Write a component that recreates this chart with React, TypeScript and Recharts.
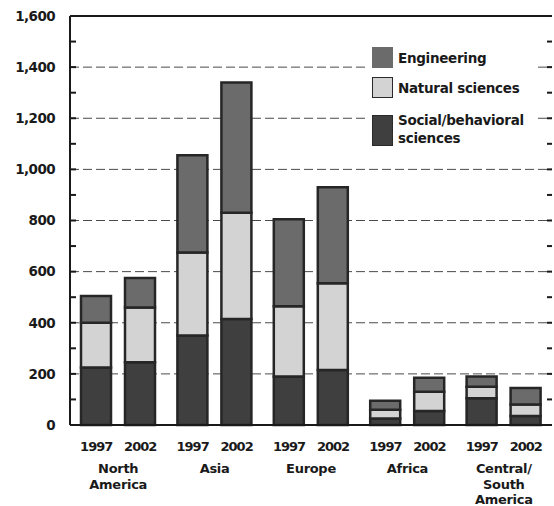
import {
  BarChart,
  Bar,
  XAxis,
  YAxis,
  CartesianGrid,
  Legend,
  ReferenceLine,
} from "recharts";

const regions = ["North America", "Asia", "Europe", "Africa", "Central/South America"];
const regionLines = [["North", "America"], ["Asia"], ["Europe"], ["Africa"], ["Central/", "South", "America"]];
const years = ["1997", "2002"];

const social1997 = [225, 350, 190, 25, 105];
const natural1997 = [175, 325, 275, 35, 45];
const engineering1997 = [105, 380, 340, 35, 40];
const social2002 = [245, 415, 215, 55, 35];
const natural2002 = [215, 415, 340, 75, 45];
const engineering2002 = [115, 510, 375, 55, 65];

// every 100 gets a tick mark, every 200 gets a label and a dashed line
const yTicks = [0, 100, 200, 300, 400, 500, 600, 700, 800, 900, 1000, 1100, 1200, 1300, 1400, 1500, 1600];
const gridValues = [200, 400, 600, 800, 1000, 1200, 1400];

const legendItems = [
  { label: ["Engineering"], color: "#6b6b6b" },
  { label: ["Natural sciences"], color: "#d3d3d3" },
  { label: ["Social/behavioral", "sciences"], color: "#3f3f3f" },
];

const COLORS = { eng: "#6b6b6b", nat: "#d3d3d3", soc: "#3f3f3f" };
const FONT = "'DejaVu Sans', 'Liberation Sans', Arial, sans-serif";
const INK = "#1a1a1a";
const PLOT_RIGHT = 552;

const data = regions.map((r, i) => ({
  region: r,
  soc97: social1997[i],
  nat97: natural1997[i],
  eng97: engineering1997[i],
  soc02: social2002[i],
  nat02: natural2002[i],
  eng02: engineering2002[i],
}));

const RegionTick = (props: any) => {
  const { x, y, index } = props;
  const lines = regionLines[index] || [];
  return (
    <g fontFamily={FONT} fontWeight={700} fill={INK}>
      <text x={x - 22} y={y + 18} textAnchor="middle" fontSize={13} letterSpacing={-1} fill={INK}>
        {years[0]}
      </text>
      <text x={x + 22} y={y + 18} textAnchor="middle" fontSize={13} letterSpacing={-1} fill={INK}>
        {years[1]}
      </text>
      {lines.map((l, i) => (
        <text key={l} x={x} y={y + 40 + i * 15.5} textAnchor="middle" fontSize={13} letterSpacing={-0.3} fill={INK}>
          {l}
        </text>
      ))}
    </g>
  );
};

const ValueTick = (props: any) => {
  const { x, y, payload } = props;
  const v = payload.value as number;
  const axisX = x + 15;
  const showLabel = v % 200 === 0;
  return (
    <g>
      {v > 0 && v < 1600 && (
        <>
          <line x1={axisX} x2={axisX + 6} y1={y} y2={y} stroke={INK} strokeWidth={2} />
          <line x1={PLOT_RIGHT - 5} x2={PLOT_RIGHT} y1={y} y2={y} stroke={INK} strokeWidth={2} />
        </>
      )}
      {showLabel && (
        <text x={x} y={y} dy="0.36em" textAnchor="end" fontSize={13.5} fontWeight={700} fontFamily={FONT} letterSpacing={-0.6} fill={INK}>
          {v.toLocaleString("en-US")}
        </text>
      )}
    </g>
  );
};

const LegendBox = () => (
  <div style={{ position: "relative", width: 170, height: 112, background: "#fff", fontFamily: FONT, fontWeight: 700, fontSize: 13.5, color: INK, letterSpacing: -0.3 }}>
    {legendItems.map((item, i) => {
      const top = [7, 37, 75][i];
      const h = i === 2 ? 31 : 21;
      return (
        <div key={item.label[0]} style={{ position: "absolute", left: 6, top }}>
          <div style={{ position: "absolute", left: 0, top: 0, width: 19, height: h - 2, background: item.color, border: `1.5px solid ${i === 0 ? item.color : "#2a2a2a"}` }} />
          <div style={{ position: "absolute", left: 26, top: i === 2 ? -4 : 2, whiteSpace: "nowrap", lineHeight: "18px" }}>
            {item.label.map((l) => (
              <div key={l}>{l}</div>
            ))}
          </div>
        </div>
      );
    })}
  </div>
);

export default function App() {
  const barStroke = { stroke: "#262626", strokeWidth: 2.5 };
  return (
    <div style={{ position: "absolute", left: 0, top: 0 }}>
      <BarChart
        width={554}
        height={506}
        data={data}
        margin={{ top: 16, right: 2, left: 0, bottom: 0 }}
        barSize={30}
        barGap={14}
      >
        <CartesianGrid vertical={false} horizontalValues={gridValues} stroke="#4a4a4a" strokeDasharray="9 4" />
        <XAxis
          dataKey="region"
          interval={0}
          height={81}
          tickLine={false}
          axisLine={{ stroke: INK, strokeWidth: 2 }}
          tick={<RegionTick />}
        />
        <YAxis
          type="number"
          domain={[0, 1600]}
          ticks={yTicks}
          interval={0}
          width={70}
          tickLine={false}
          tickSize={10}
          tickMargin={5}
          axisLine={{ stroke: INK, strokeWidth: 2 }}
          tick={<ValueTick />}
        />
        <ReferenceLine y={1600} stroke={INK} strokeWidth={2} />
        <Legend
          layout="horizontal"
          verticalAlign="middle"
          align="center"
          wrapperStyle={{ top: 40, left: 366, width: 170, height: 112 }}
          content={() => <LegendBox />}
        />
        <Bar dataKey="soc97" stackId="1997" fill={COLORS.soc} {...barStroke} isAnimationActive={false} />
        <Bar dataKey="nat97" stackId="1997" fill={COLORS.nat} {...barStroke} isAnimationActive={false} />
        <Bar dataKey="eng97" stackId="1997" fill={COLORS.eng} {...barStroke} isAnimationActive={false} />
        <Bar dataKey="soc02" stackId="2002" fill={COLORS.soc} {...barStroke} isAnimationActive={false} />
        <Bar dataKey="nat02" stackId="2002" fill={COLORS.nat} {...barStroke} isAnimationActive={false} />
        <Bar dataKey="eng02" stackId="2002" fill={COLORS.eng} {...barStroke} isAnimationActive={false} />
      </BarChart>
    </div>
  );
}
